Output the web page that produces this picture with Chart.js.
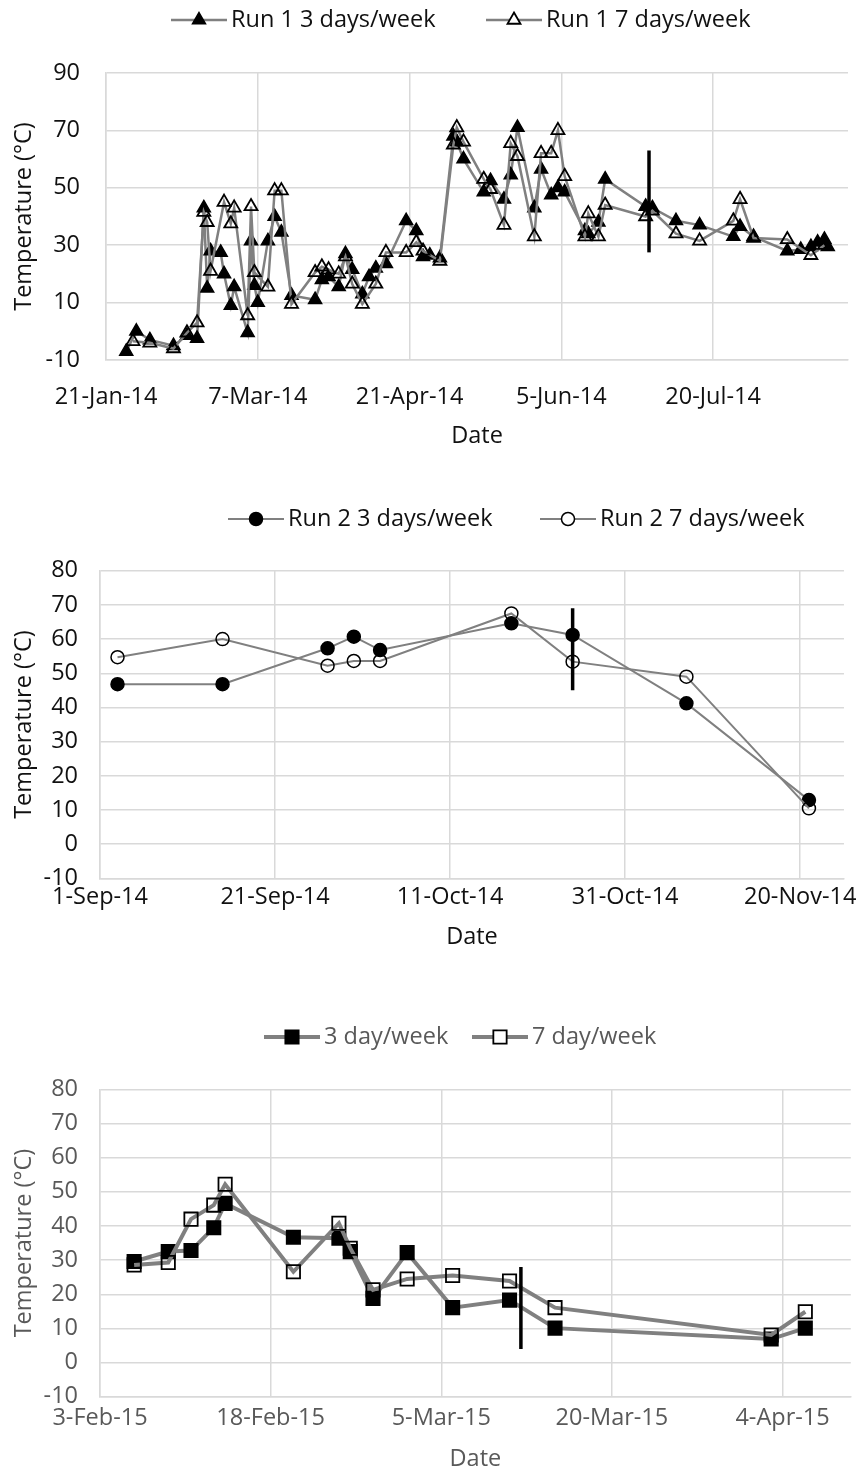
<!DOCTYPE html>
<html>
<head>
<meta charset="utf-8">
<script src="https://cdn.jsdelivr.net/npm/chart.js@4.4.1/dist/chart.umd.min.js"></script>
<style>
  body { margin: 0; background: #fff; }
  canvas { position: absolute; left: 0; }
</style>
</head>
<body>
<canvas id="run1" width="862" height="470" style="top:0px"></canvas>
<canvas id="run2" width="862" height="470" style="top:490px"></canvas>
<canvas id="run3" width="862" height="497" style="top:985px"></canvas>
<script>
// ---- Run 1 (2014) ----
var run1Dates3 = ['2014-01-27', '2014-01-30', '2014-02-03', '2014-02-10', '2014-02-14', '2014-02-17', '2014-02-19', '2014-02-20',
    '2014-02-21', '2014-02-24', '2014-02-25', '2014-02-27', '2014-02-28', '2014-03-04', '2014-03-05', '2014-03-06', '2014-03-07',
    '2014-03-10', '2014-03-12', '2014-03-14', '2014-03-17', '2014-03-24', '2014-03-26', '2014-03-28', '2014-03-31', '2014-04-02',
    '2014-04-04', '2014-04-07', '2014-04-09', '2014-04-11', '2014-04-14', '2014-04-20', '2014-04-23', '2014-04-25', '2014-04-27',
    '2014-04-30', '2014-05-04', '2014-05-05', '2014-05-07', '2014-05-13', '2014-05-15', '2014-05-19', '2014-05-21', '2014-05-23',
    '2014-05-28', '2014-05-30', '2014-06-02', '2014-06-04', '2014-06-06', '2014-06-12', '2014-06-13', '2014-06-16', '2014-06-18',
    '2014-06-30', '2014-07-02', '2014-07-09', '2014-07-16', '2014-07-26', '2014-07-28', '2014-08-01', '2014-08-11', '2014-08-15',
    '2014-08-18', '2014-08-20', '2014-08-22', '2014-08-23'];
var run1Temps3 = [-7, 0, -3, -5, -1.5, -2.5, 43, 15, 28, 27.5, 20, 9, 15.5, -0.5, 31.5, 16, 10, 31.5, 40, 34.5, 12.5, 11, 18, 19, 15.5, 27,
    21.5, 13, 19, 22, 23.5, 38.5, 35, 26, 26.5, 25.5, 68, 66, 60, 48.5, 52.5, 46, 54.5, 71, 43, 56.5, 47.5, 50, 48.5, 35, 34, 38, 53,
    43.5, 43, 38.5, 37, 33, 36.5, 33, 28, 28.5, 29.5, 31, 32, 29.5];
var run1Dates7 = ['2014-01-29', '2014-02-03', '2014-02-10', '2014-02-14', '2014-02-17', '2014-02-19', '2014-02-20', '2014-02-21',
    '2014-02-25', '2014-02-27', '2014-02-28', '2014-03-04', '2014-03-05', '2014-03-06', '2014-03-10', '2014-03-12', '2014-03-14',
    '2014-03-17', '2014-03-24', '2014-03-26', '2014-03-28', '2014-03-31', '2014-04-02', '2014-04-04', '2014-04-07', '2014-04-11',
    '2014-04-14', '2014-04-20', '2014-04-23', '2014-04-25', '2014-04-30', '2014-05-04', '2014-05-05', '2014-05-07', '2014-05-13',
    '2014-05-15', '2014-05-19', '2014-05-21', '2014-05-23', '2014-05-28', '2014-05-30', '2014-06-02', '2014-06-04', '2014-06-06',
    '2014-06-12', '2014-06-13', '2014-06-16', '2014-06-18', '2014-06-30', '2014-07-02', '2014-07-09', '2014-07-16', '2014-07-26',
    '2014-07-28', '2014-08-01', '2014-08-11', '2014-08-18', '2014-08-22'];
var run1Temps7 = [-3.5, -4, -6, -0.5, 3, 41.5, 38, 21, 45, 37.5, 43, 5.5, 43.5, 20.5, 15.5, 49, 49, 9.5, 20.5, 22.5, 21.5, 20, 26, 16.5,
    9.5, 16.5, 27.5, 27.5, 31, 28, 24.5, 65, 71, 66, 53, 49.5, 37, 65.5, 61, 33, 62, 62, 70, 54, 33, 41, 33, 44, 40, 42, 34, 31.5,
    38.5, 46, 32.5, 32, 26.5, 30];
var run1Ticks = ['2014-01-21', '2014-03-07', '2014-04-21', '2014-06-05', '2014-07-20'];
var run1Range = ['2014-01-21', '2014-08-29'];
var run1YTicks = [-10, 10, 30, 50, 70, 90];
var run1Mark = { date: '2014-07-01', low: 27.5, high: 63 };

// ---- Run 2 (autumn 2014) ----
var run2Dates = ['2014-09-03', '2014-09-15', '2014-09-27', '2014-09-30', '2014-10-03', '2014-10-18', '2014-10-25', '2014-11-07', '2014-11-21'];
var run2Temps3 = [46.8, 46.8, 57.3, 60.7, 56.8, 64.6, 61.2, 41.2, 12.9];
var run2Temps7 = [54.7, 60, 52.2, 53.6, 53.6, 67.5, 53.4, 49, 10.5];
var run2Ticks = ['2014-09-01', '2014-09-21', '2014-10-11', '2014-10-31', '2014-11-20'];
var run2Range = ['2014-09-01', '2014-11-25'];
var run2Mark = { date: '2014-10-25', low: 45, high: 69 };

// ---- Run 3 (2015) ----
var run3Dates = ['2015-02-06', '2015-02-09', '2015-02-11', '2015-02-13', '2015-02-14', '2015-02-20', '2015-02-24', '2015-02-25',
    '2015-02-27', '2015-03-02', '2015-03-06', '2015-03-11', '2015-03-15', '2015-04-03', '2015-04-06'];
var run3Temps3 = [29.6, 32.5, 32.8, 39.5, 46.6, 36.7, 36.4, 32.5, 18.8, 32.2, 16.1, 18.3, 10.1, 6.9, 10.1];
var run3Temps7 = [28.6, 29.3, 42, 46.1, 52.2, 26.6, 40.8, 33.5, 21.3, 24.5, 25.5, 23.9, 16.1, 8.1, 14.9];
var run3Ticks = ['2015-02-03', '2015-02-18', '2015-03-05', '2015-03-20', '2015-04-04'];
var run3Range = ['2015-02-03', '2015-04-10'];
var run3Mark = { date: '2015-03-12', low: 4, high: 28 };

var otherYTicks = [-10, 0, 10, 20, 30, 40, 50, 60, 70, 80];

var months = ['Jan', 'Feb', 'Mar', 'Apr', 'May', 'Jun', 'Jul', 'Aug', 'Sep', 'Oct', 'Nov', 'Dec'];
var FONT_SIZE = 23.5;

function toDay(s) {
    var p = s.split('-');
    return Date.UTC(+p[0], +p[1] - 1, +p[2]) / 864e5;
}

function fmtDay(v) {
    var d = new Date(v * 864e5);
    return d.getUTCDate() + '-' + months[d.getUTCMonth()] + '-' + String(d.getUTCFullYear()).slice(2);
}

function pts(dates, temps) {
    return dates.map(function (d, i) { return { x: toDay(d), y: temps[i] }; });
}

function markPts(m) {
    return [{ x: toDay(m.date), y: m.low }, { x: toDay(m.date), y: m.high }];
}

function drawMarker(ctx, style, x, y, r, fill, stroke, lw) {
    ctx.beginPath();
    if (style === 'triangle') {
        var s = r * Math.sin(Math.PI / 3);
        ctx.moveTo(x, y - r);
        ctx.lineTo(x + s, y + r / 2);
        ctx.lineTo(x - s, y + r / 2);
        ctx.closePath();
    } else if (style === 'rect') {
        var h = r * Math.SQRT1_2;
        ctx.rect(x - h, y - h, 2 * h, 2 * h);
    } else {
        ctx.arc(x, y, r, 0, 2 * Math.PI);
    }
    ctx.fillStyle = fill;
    ctx.fill();
    ctx.lineWidth = lw;
    ctx.strokeStyle = stroke;
    ctx.stroke();
}

// legend drawn as line + marker + label, like the spreadsheet one
var legendRow = {
    id: 'legendRow',
    afterDraw: function (chart, args, opts) {
        var ctx = chart.ctx;
        ctx.save();
        opts.items.forEach(function (x, i) {
            var ds = chart.data.datasets[i];
            ctx.strokeStyle = ds.borderColor;
            ctx.lineWidth = ds.borderWidth;
            ctx.beginPath();
            ctx.moveTo(x - 28, opts.y);
            ctx.lineTo(x + 28, opts.y);
            ctx.stroke();
            drawMarker(ctx, ds.pointStyle, x, opts.y, ds.pointRadius, opts.fills[i], '#000', ds.pointBorderWidth);
            ctx.fillStyle = opts.color;
            ctx.font = FONT_SIZE + 'px "Open Sans"';
            ctx.textAlign = 'left';
            ctx.textBaseline = 'middle';
            ctx.fillText(ds.label, x + 32, opts.y);
        });
        ctx.restore();
    }
};

function series(label, data, style, radius, fill, lineW, markW, order) {
    return {
        label: label,
        data: data,
        borderColor: '#808080',
        borderWidth: lineW,
        pointStyle: style,
        pointRadius: radius,
        pointBackgroundColor: fill,
        pointBorderColor: '#000',
        pointBorderWidth: markW,
        tension: 0,
        order: order
    };
}

function markLine(m) {
    return { label: '', data: markPts(m), borderColor: '#000', borderWidth: 3.5, pointRadius: 0, order: -1 };
}

function buildChart(id, cfg) {
    var L = cfg.layout;
    var font = { family: 'Open Sans', size: FONT_SIZE };
    var gridColor = '#d9d9d9';
    return new Chart(document.getElementById(id), {
        type: 'line',
        data: { datasets: cfg.datasets },
        options: {
            responsive: false,
            animation: false,
            layout: { padding: { top: L.top, left: 0, right: L.right, bottom: L.bottom } },
            plugins: {
                legend: { display: false },
                tooltip: { enabled: false },
                legendRow: cfg.legend
            },
            scales: {
                x: {
                    type: 'linear',
                    min: toDay(cfg.range[0]),
                    max: toDay(cfg.range[1]),
                    afterBuildTicks: function (ax) {
                        ax.ticks = cfg.ticks.map(function (t) { return { value: toDay(t) }; });
                    },
                    afterFit: function (ax) { ax.height = L.xh; },
                    ticks: { callback: fmtDay, autoSkip: false, maxRotation: 0, padding: L.xpad, color: cfg.textColor, font: font },
                    grid: { color: gridColor, lineWidth: 1.5, drawTicks: false },
                    border: { color: gridColor, width: 1.5 },
                    title: { display: true, text: 'Date', color: cfg.textColor, font: font, padding: 0 }
                },
                y: {
                    min: cfg.yTicks[0],
                    max: cfg.yTicks[cfg.yTicks.length - 1],
                    afterBuildTicks: function (ax) {
                        ax.ticks = cfg.yTicks.map(function (v) { return { value: v }; });
                    },
                    afterFit: function (ax) { ax.width = L.yw; },
                    ticks: { padding: L.ypad, color: cfg.textColor, font: font },
                    grid: { color: gridColor, lineWidth: 1.5, drawTicks: false },
                    border: { color: gridColor, width: 1.5 },
                    title: { display: true, text: 'Temperature (°C)', color: cfg.textColor, font: font, padding: { top: L.ytp, bottom: 0 } }
                }
            }
        },
        plugins: [legendRow]
    });
}

buildChart('run1', {
    datasets: [
        series('Run 1 3 days/week', pts(run1Dates3, run1Temps3), 'triangle', 7.5, '#000', 2.5, 1.5, 2),
        series('Run 1 7 days/week', pts(run1Dates7, run1Temps7), 'triangle', 7.5, 'rgba(255,255,255,0)', 2.5, 1.8, 1),
        markLine(run1Mark)
    ],
    ticks: run1Ticks, range: run1Range, yTicks: run1YTicks, textColor: '#111',
    legend: { y: 20, items: [199, 514], fills: ['#000', '#fff'], color: '#111' },
    layout: { top: 73, right: 14, bottom: 20, yw: 106, xh: 90, xpad: 23, ypad: 26, ytp: 10 }
});

buildChart('run2', {
    datasets: [
        series('Run 2 3 days/week', pts(run2Dates, run2Temps3), 'circle', 6.5, '#000', 2, 1.5, 2),
        series('Run 2 7 days/week', pts(run2Dates, run2Temps7), 'circle', 6.5, 'rgba(255,255,255,0)', 2, 1.5, 1),
        markLine(run2Mark)
    ],
    ticks: run2Ticks, range: run2Range, yTicks: otherYTicks, textColor: '#111',
    legend: { y: 29, items: [256, 568], fills: ['#000', '#fff'], color: '#111' },
    layout: { top: 80.7, right: 10, bottom: 8.6, yw: 100, xh: 73, xpad: 5, ypad: 22, ytp: 10 }
});

buildChart('run3', {
    datasets: [
        series('3 day/week', pts(run3Dates, run3Temps3), 'rect', 9.4, '#000', 4, 1.8, 2),
        series('7 day/week', pts(run3Dates, run3Temps7), 'rect', 9.4, 'rgba(255,255,255,0)', 4, 1.8, 1),
        markLine(run3Mark)
    ],
    ticks: run3Ticks, range: run3Range, yTicks: otherYTicks, textColor: '#595959',
    legend: { y: 52, items: [292, 500], fills: ['#000', '#fff'], color: '#595959' },
    layout: { top: 104.3, right: 7, bottom: 8.2, yw: 100, xh: 77, xpad: 7, ypad: 22, ytp: 10 }
});
</script>
</body>
</html>
